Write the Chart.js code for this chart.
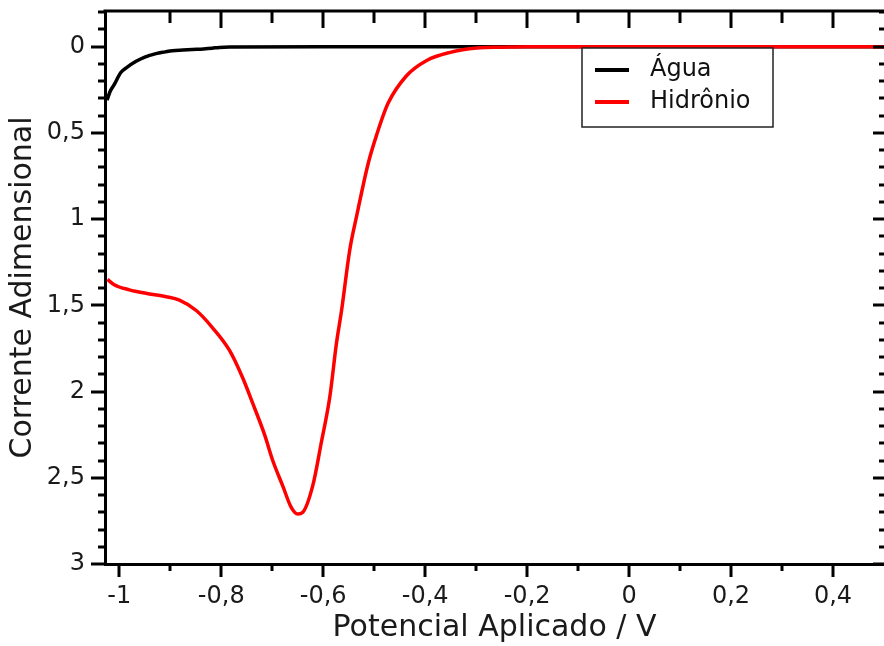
<!DOCTYPE html>
<html lang="pt">
<head>
<meta charset="UTF-8" />
<title>Corrente Adimensional x Potencial Aplicado</title>
<script src="https://cdn.jsdelivr.net/npm/chart.js"></script>
<style>
  body { margin: 0; background: #fff; }
  canvas { display: block; }
</style>
</head>
<body>
<canvas id="voltChart" width="884" height="646"></canvas>
<script>
// values
const seriesLabels = ["Água", "Hidrônio"];
const seriesColors = ["#000000", "#ff0000"];

const xAgua = [-1.024, -1.018, -1.01, -0.997, -0.985, -0.967, -0.95, -0.928, -0.91, -0.896, -0.875, -0.857, -0.835, -0.818, -0.804, -0.78, -0.6, -0.4, -0.2, 0, 0.2, 0.4, 0.5];
const yAgua = [0.31, 0.26, 0.22, 0.15, 0.12, 0.085, 0.06, 0.04, 0.03, 0.023, 0.019, 0.016, 0.013, 0.009, 0.004, 0.002, 0, 0, 0, 0, 0, 0, 0];

const xHidronio = [-1.023, -1.01, -0.98, -0.948, -0.908, -0.882, -0.849, -0.817, -0.784, -0.758, -0.738, -0.715, -0.699, -0.679, -0.663, -0.65, -0.64, -0.62, -0.604, -0.587, -0.574, -0.564, -0.548, -0.535, -0.512, -0.495, -0.473, -0.437, -0.397, -0.351, -0.299, -0.247, -0.2, 0, 0.2, 0.4, 0.5];
const yHidronio = [1.35, 1.38, 1.41, 1.43, 1.45, 1.47, 1.53, 1.63, 1.76, 1.92, 2.07, 2.25, 2.40, 2.55, 2.67, 2.71, 2.70, 2.54, 2.30, 2.03, 1.72, 1.53, 1.18, 0.99, 0.68, 0.51, 0.33, 0.17, 0.08, 0.033, 0.008, 0.003, 0, 0, 0, 0, 0];

const xTickValues = [-1, -0.8, -0.6, -0.4, -0.2, 0, 0.2, 0.4];
const yTickValues = [0, 0.5, 1, 1.5, 2, 2.5, 3];

const toPoints = (xs, ys) => xs.map((x, i) => ({ x: x, y: ys[i] }));
const comma = (v) => String(v).replace(".", ",");

// inward/outward tick marks and the top frame line
const frameTicks = {
  id: "frameTicks",
  afterDraw(chart) {
    const { ctx, chartArea: a } = chart;
    const x = chart.scales.x, y = chart.scales.y;
    const line = (x1, y1, x2, y2) => {
      ctx.beginPath(); ctx.moveTo(x1, y1); ctx.lineTo(x2, y2); ctx.stroke();
    };
    ctx.save();
    ctx.strokeStyle = "#000";
    ctx.lineWidth = 3;
    line(a.left - 1.5, a.top, a.right, a.top);
    for (let i = -10; i <= 5; i++) {
      const px = Math.round(x.getPixelForValue(i / 10));
      if (px < a.left || px > a.right - 2) continue;
      const major = i % 2 === 0;
      line(px, a.bottom, px, a.bottom + (major ? 13 : 7));
      if (i > -10) line(px, a.top, px, a.top + (major ? 17 : 12));
    }
    for (let j = -2; j <= 30; j++) {
      const py = Math.round(y.getPixelForValue(j / 10));
      const major = j % 5 === 0;
      line(a.left - (major ? 14 : 7), py, a.left, py);
      line(a.right - (major ? 11 : 5), py, a.right, py);
    }
    ctx.restore();
  }
};

// boxed legend inside the plot
const boxLegend = {
  id: "boxLegend",
  afterDraw(chart) {
    const { ctx, chartArea: a } = chart;
    const bx = a.right - 302, by = a.top + 37, bw = 191, bh = 79;
    ctx.save();
    ctx.fillStyle = "#fff";
    ctx.fillRect(bx, by, bw, bh);
    ctx.strokeStyle = "#222";
    ctx.lineWidth = 1.5;
    ctx.strokeRect(bx, by, bw, bh);
    ctx.font = "24px 'DejaVu Sans'";
    ctx.textBaseline = "middle";
    seriesLabels.forEach((label, i) => {
      const ly = by + 22 + i * 32;
      ctx.strokeStyle = seriesColors[i];
      ctx.lineWidth = 4;
      ctx.beginPath(); ctx.moveTo(bx + 13, ly); ctx.lineTo(bx + 47, ly); ctx.stroke();
      ctx.fillStyle = "#111";
      ctx.fillText(label, bx + 68, ly);
    });
    ctx.restore();
  }
};

new Chart(document.getElementById("voltChart").getContext("2d"), {
  type: "line",
  data: {
    datasets: [
      {
        label: seriesLabels[0],
        data: toPoints(xAgua, yAgua),
        borderColor: seriesColors[0],
        borderWidth: 3.5,
        pointRadius: 0,
        cubicInterpolationMode: "monotone",
        fill: false,
        order: 1
      },
      {
        label: seriesLabels[1],
        data: toPoints(xHidronio, yHidronio),
        borderColor: seriesColors[1],
        borderWidth: 3.5,
        pointRadius: 0,
        cubicInterpolationMode: "monotone",
        fill: false,
        order: 0
      }
    ]
  },
  options: {
    responsive: false,
    animation: false,
    layout: { padding: { top: 11, right: 0, left: 0, bottom: 0 } },
    plugins: { legend: { display: false }, tooltip: { enabled: false } },
    scales: {
      x: {
        type: "linear",
        min: -1.028,
        max: 0.5,
        afterBuildTicks: (s) => { s.ticks = xTickValues.map((v) => ({ value: v })); },
        afterFit: (s) => { s.height = 82; s.paddingLeft = 0; s.paddingRight = 0; },
        grid: { display: false, drawTicks: false },
        border: { display: true, width: 3, color: "#000" },
        ticks: {
          padding: 18,
          maxRotation: 0,
          autoSkip: false,
          color: "#1a1a1a",
          font: { family: "'DejaVu Sans'", size: 24 },
          callback: (v) => comma(v)
        },
        title: {
          display: true,
          text: "Potencial Aplicado / V",
          color: "#1a1a1a",
          font: { family: "'DejaVu Sans'", size: 30 },
          padding: { top: 0, bottom: 0 }
        }
      },
      y: {
        type: "linear",
        reverse: true,
        min: -0.207,
        max: 3,
        afterBuildTicks: (s) => { s.ticks = yTickValues.map((v) => ({ value: v })); },
        afterFit: (s) => { s.width = 105; s.paddingTop = 0; s.paddingBottom = 0; },
        grid: { display: false, drawTicks: false },
        border: { display: true, width: 3, color: "#000" },
        ticks: {
          padding: 20,
          autoSkip: false,
          color: "#1a1a1a",
          font: { family: "'DejaVu Sans'", size: 24 },
          callback: (v) => comma(v)
        },
        title: {
          display: true,
          text: "Corrente Adimensional",
          color: "#1a1a1a",
          font: { family: "'DejaVu Sans'", size: 30 },
          padding: { top: 5, bottom: 0 }
        }
      }
    }
  },
  plugins: [frameTicks, boxLegend]
});
</script>
</body>
</html>
